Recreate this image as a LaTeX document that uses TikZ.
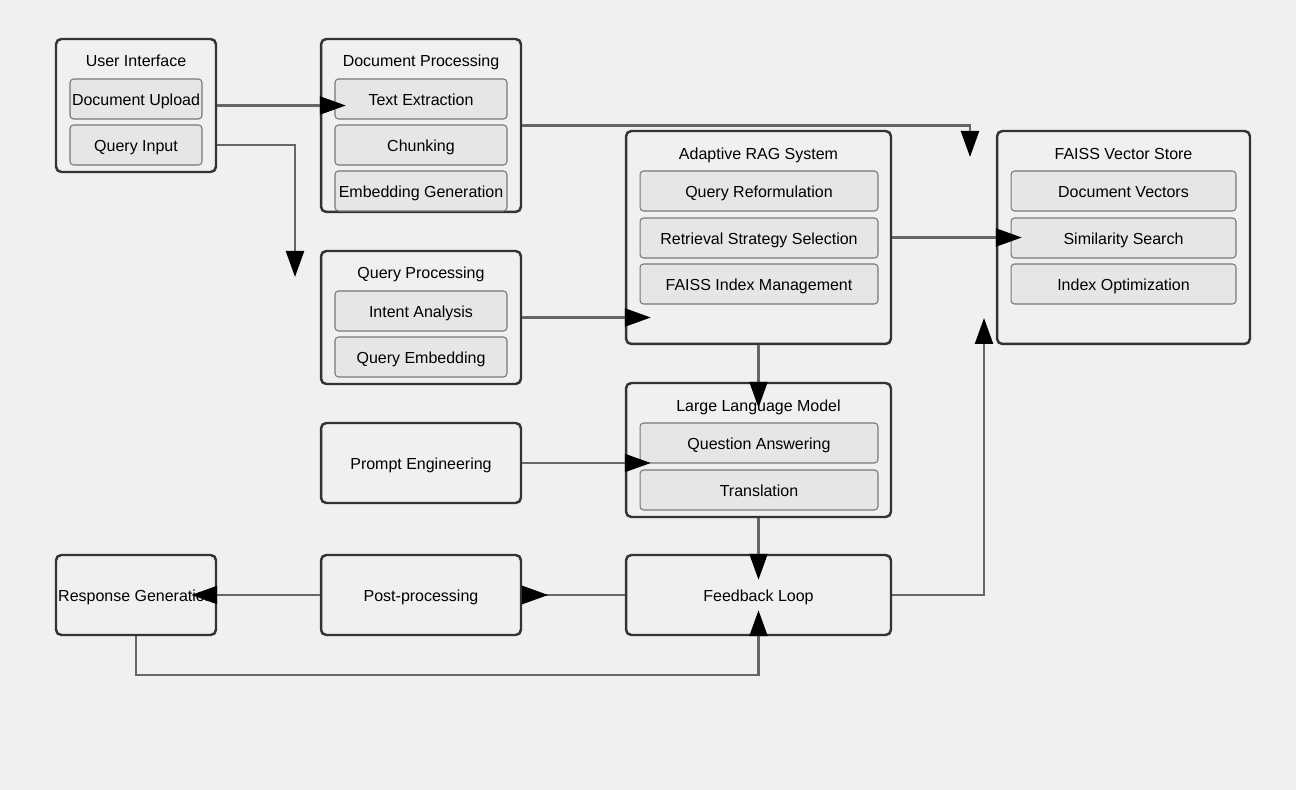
\documentclass[tikz,border=0pt]{standalone}
\usepackage{fontspec}
\setmainfont{Liberation Sans}
\usetikzlibrary{arrows.meta}
\definecolor{canvas}{HTML}{F0F0F0}
\definecolor{groupline}{HTML}{333333}
\definecolor{itemfill}{HTML}{E6E6E6}
\definecolor{itemline}{HTML}{777777}
\definecolor{flowgray}{HTML}{666666}
\tikzset{
  group/.style={draw=groupline, fill=canvas, line width=1.4pt, rounded corners=3pt, inner sep=0pt, text height=0.75em, text depth=0pt},
  item/.style={draw=itemline, fill=itemfill, line width=0.6pt, rounded corners=2pt, inner sep=0pt, minimum height=0.8cm, text height=0.75em, text depth=0pt},
  heading/.style={inner sep=0pt, text height=0.75em, text depth=0pt},
  flow/.style={draw=flowgray, line width=1.3pt, -{Triangle[length=0.52cm, width=0.36cm, color=black]}, shorten >=-0.52cm}
}
\begin{document}
\begin{tikzpicture}[x=0.02cm, y=-0.02cm, font=\fontsize{9.1}{11}\selectfont]
                \fill[canvas] (0,0) rectangle (1296,790);
                % user interface
                \node[group, minimum width=3.2cm, minimum height=2.66cm] (ui) at (136,105.5) {};
                \node[heading] (uiTitle) at (136,60) {User Interface};
                \node[item, minimum width=2.64cm] (uiUpload) at (136,99) {Document Upload};
                \node[item, minimum width=2.64cm] (uiQuery) at (136,145) {Query Input};
                % document processing
                \node[group, minimum width=4cm, minimum height=3.46cm] (doc) at (421,125.5) {};
                \node[heading] (docTitle) at (421,60) {Document Processing};
                \node[item, minimum width=3.44cm] (docText) at (421,99) {Text Extraction};
                \node[item, minimum width=3.44cm] (docChunk) at (421,145) {Chunking};
                \node[item, minimum width=3.44cm] (docEmbed) at (421,191) {Embedding Generation};
                % query processing
                \node[group, minimum width=4cm, minimum height=2.66cm] (qp) at (421,317.5) {};
                \node[heading] (qpTitle) at (421,272) {Query Processing};
                \node[item, minimum width=3.44cm] (qpIntent) at (421,311) {Intent Analysis};
                \node[item, minimum width=3.44cm] (qpEmbed) at (421,357) {Query Embedding};
                % adaptive rag
                \node[group, minimum width=5.3cm, minimum height=4.26cm] (rag) at (758.5,237.5) {};
                \node[heading] (ragTitle) at (758.5,153) {Adaptive RAG System};
                \node[item, minimum width=4.76cm] (ragReform) at (759,191) {Query Reformulation};
                \node[item, minimum width=4.76cm] (ragStrategy) at (759,238) {Retrieval Strategy Selection};
                \node[item, minimum width=4.76cm] (ragIndex) at (759,284) {FAISS Index Management};
                % faiss store
                \node[group, minimum width=5.06cm, minimum height=4.26cm] (faiss) at (1123.5,237.5) {};
                \node[heading] (faissTitle) at (1123.5,153) {FAISS Vector Store};
                \node[item, minimum width=4.5cm] (faissVec) at (1123.5,191) {Document Vectors};
                \node[item, minimum width=4.5cm] (faissSim) at (1123.5,238) {Similarity Search};
                \node[item, minimum width=4.5cm] (faissOpt) at (1123.5,284) {Index Optimization};
                % llm
                \node[group, minimum width=5.3cm, minimum height=2.68cm] (llm) at (758.5,450) {};
                \node[heading] (llmTitle) at (758.5,405) {Large Language Model};
                \node[item, minimum width=4.76cm] (llmQA) at (759,443) {Question Answering};
                \node[item, minimum width=4.76cm] (llmTrans) at (759,490) {Translation};
                % single boxes
                \node[group, minimum width=4cm, minimum height=1.6cm] (prompt) at (421,463) {Prompt Engineering};
                \node[group, minimum width=3.2cm, minimum height=1.6cm] (resp) at (136,595) {Response Generation};
                \node[group, minimum width=4cm, minimum height=1.6cm] (post) at (421,595) {Post-processing};
                \node[group, minimum width=5.3cm, minimum height=1.6cm] (fb) at (758.5,595) {Feedback Loop};
                % free ends
                \coordinate (queryDrop) at (295,251);
                \coordinate (storeDrop) at (970,131);
                \coordinate (storeRise) at (984,344);
                \coordinate (loopLow) at (136,675);
                % connectors
                \draw[flow] (ui.east) -- (ui.east -| doc.west);
                \draw[flow] (uiQuery.east -| ui.east) -| (queryDrop);
                \draw[flow] (doc.east) -| (storeDrop);
                \draw[flow] (qp.east) -- (qp.east -| rag.west);
                \draw[flow] (rag.east) -- (rag.east -| faiss.west);
                \draw[flow] (rag.south) -- (llm.north);
                \draw[flow] (prompt.east) -- (prompt.east -| llm.west);
                \draw[flow] (llm.south) -- (fb.north);
                \draw[flow] (post.west) -- (resp.east);
                \draw[draw=flowgray, line width=1.3pt, {Triangle[reversed, length=0.52cm, width=0.36cm, color=black]}-] (post.east) -- (fb.west);
                \draw[flow] (fb.east) -| (storeRise);
                \draw[flow] (resp.south) -- (loopLow) -| (fb.south);
            \end{tikzpicture}
\end{document}
